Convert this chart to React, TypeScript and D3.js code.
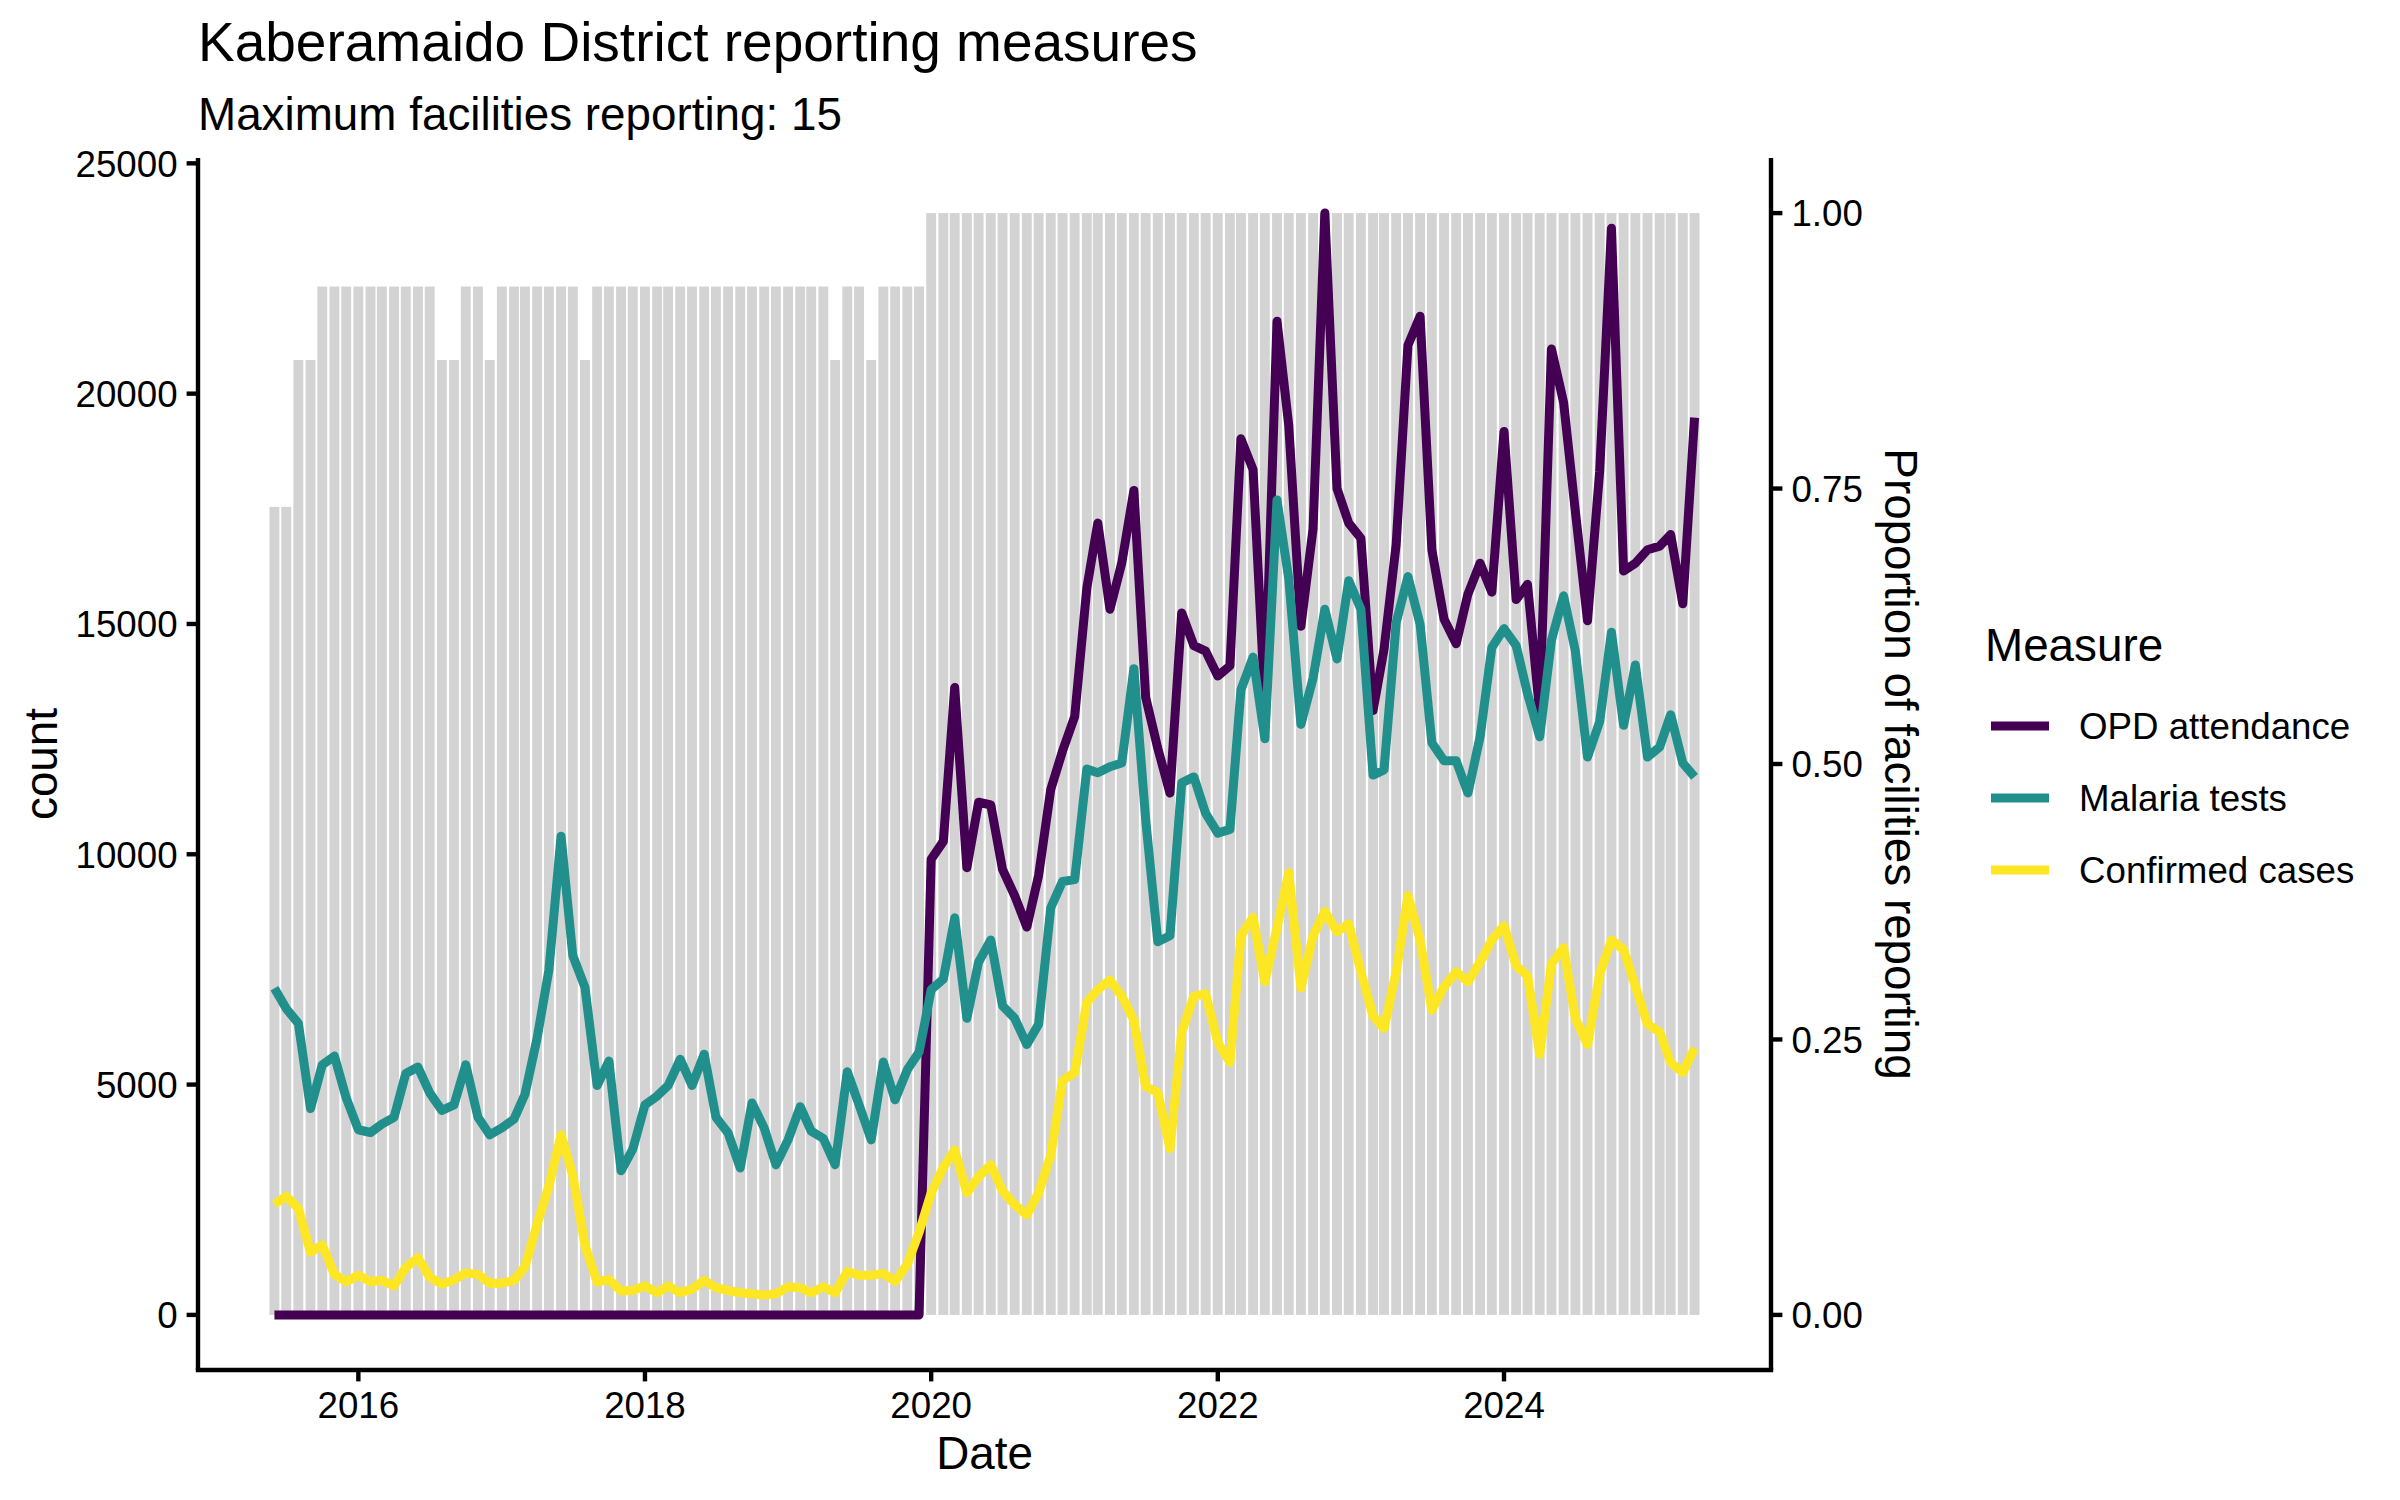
import { useEffect } from "react";
import * as d3 from "d3";

const START_MONTH = "2015-06-01";
const MAX_FACILITIES = 15;

// facilities reporting per month, Jun 2015 .. May 2025
const facilities = [
  11, 11, 13, 13, 14, 14, 14, 14, 14, 14, 14, 14, 14, 14, 13, 13, 14, 14, 13, 14,
  14, 14, 14, 14, 14, 14, 13, 14, 14, 14, 14, 14, 14, 14, 14, 14, 14, 14, 14, 14,
  14, 14, 14, 14, 14, 14, 14, 13, 14, 14, 13, 14, 14, 14, 14, 15, 15, 15, 15, 15,
  15, 15, 15, 15, 15, 15, 15, 15, 15, 15, 15, 15, 15, 15, 15, 15, 15, 15, 15, 15,
  15, 15, 15, 15, 15, 15, 15, 15, 15, 15, 15, 15, 15, 15, 15, 15, 15, 15, 15, 15,
  15, 15, 15, 15, 15, 15, 15, 15, 15, 15, 15, 15, 15, 15, 15, 15, 15, 15, 15, 15,
];

const opdAttendance = [
  0, 0, 0, 0, 0, 0, 0, 0, 0, 0, 0, 0, 0, 0, 0, 0, 0, 0, 0, 0,
  0, 0, 0, 0, 0, 0, 0, 0, 0, 0, 0, 0, 0, 0, 0, 0, 0, 0, 0, 0,
  0, 0, 0, 0, 0, 0, 0, 0, 0, 0, 0, 0, 0, 0, 0, 9890, 10280, 13620, 9710, 11130,
  11070, 9670, 9100, 8420, 9540, 11410, 12240, 12990, 15780, 17190, 15320, 16320, 17900, 13410, 12300, 11330, 15240, 14530, 14410, 13870,
  14090, 19020, 18350, 13300, 21570, 19310, 14950, 17070, 23920, 17940, 17190, 16860, 13120, 14450, 16730, 21050, 21680, 16610, 15110, 14570,
  15650, 16320, 15690, 19180, 15530, 15860, 13080, 20970, 19810, 17440, 15070, 18310, 23590, 16150, 16320, 16610, 16690, 16940, 15440, 19480,
];

const malariaTests = [
  7090, 6650, 6330, 4480, 5430, 5620, 4710, 4020, 3960, 4140, 4290, 5240, 5380, 4820, 4440, 4560, 5430, 4290, 3910, 4060,
  4250, 4790, 6010, 7490, 10390, 7800, 7110, 4980, 5510, 3130, 3600, 4560, 4750, 4980, 5550, 4980, 5660, 4290, 3950, 3190,
  4600, 4060, 3260, 3800, 4520, 3990, 3830, 3260, 5280, 4560, 3800, 5490, 4670, 5320, 5700, 7060, 7290, 8620, 6440, 7660,
  8140, 6710, 6440, 5870, 6310, 8840, 9410, 9450, 11850, 11770, 11900, 11980, 14030, 10760, 8100, 8230, 11550, 11680, 10890, 10460,
  10540, 13570, 14280, 12510, 17690, 15980, 12820, 13820, 15320, 14240, 15940, 15320, 11720, 11830, 15030, 16030, 14990, 12420, 12030, 12030,
  11330, 12550, 14490, 14900, 14530, 13490, 12550, 14650, 15610, 14410, 12110, 12880, 14820, 12800, 14110, 12110, 12330, 13030, 11980, 11680,
];

const confirmedCases = [
  2400, 2580, 2310, 1360, 1520, 880, 720, 860, 720, 750, 630, 1030, 1240, 820, 670, 760, 910, 880, 690, 690,
  750, 1050, 1970, 2800, 3910, 3030, 1510, 710, 770, 520, 530, 630, 480, 630, 480, 560, 750, 590, 530, 480,
  460, 430, 460, 610, 590, 480, 610, 480, 940, 860, 860, 900, 730, 1100, 1790, 2650, 3200, 3580, 2650, 3000,
  3260, 2690, 2390, 2170, 2650, 3470, 5090, 5260, 6790, 7060, 7270, 6920, 6400, 4960, 4830, 3610, 6140, 6920, 6970, 5920,
  5480, 8230, 8630, 7230, 8400, 9600, 7100, 8230, 8760, 8320, 8490, 7450, 6490, 6220, 7450, 9100, 8140, 6620, 7120, 7450,
  7230, 7660, 8140, 8450, 7580, 7360, 5660, 7620, 7970, 6440, 5870, 7400, 8140, 7930, 7140, 6310, 6140, 5480, 5260, 5790,
];

const measures = ["OPD attendance", "Malaria tests", "Confirmed cases"];
const measureColors = ["#440154", "#21908C", "#FDE725"];
const seriesValues = [opdAttendance, malariaTests, confirmedCases];

const yTicks = [0, 5000, 10000, 15000, 20000, 25000];
const propTicks = [0, 0.25, 0.5, 0.75, 1];
const xTickYears = [2016, 2018, 2020, 2022, 2024];

const FONT = "'Liberation Sans', Arial, Helvetica, sans-serif";
const W = 2400;
const H = 1500;
const panel = { left: 198, right: 1771, top: 158, bottom: 1370 };
const DAY = 86400000;

export default function App() {
  useEffect(() => {
    document.body.style.margin = "0";
  }, []);

  const start = new Date(START_MONTH + "T00:00:00Z");
  const months = d3.range(facilities.length).map((i) => d3.utcMonth.offset(start, i));

  // bar width: 0.9 of the smallest gap between months (28 days)
  const barDays = 0.9 * 28;
  const lo = +months[0] - (barDays / 2) * DAY;
  const hi = +months[months.length - 1] + (barDays / 2) * DAY;
  const padX = (hi - lo) * 0.05;
  const x = d3
    .scaleUtc()
    .domain([new Date(lo - padX), new Date(hi + padX)])
    .range([panel.left, panel.right]);

  const scaleFactor = d3.max(opdAttendance) as number;
  const yMax = scaleFactor;
  const padY = yMax * 0.05;
  const y = d3.scaleLinear().domain([-padY, yMax + padY]).range([panel.bottom, panel.top]);

  const line = d3
    .line<number>()
    .x((_, i) => x(months[i]))
    .y((d) => y(d));

  const tickLen = 11.4;
  const tickFont = 36.7;

  return (
    <svg width={W} height={H} style={{ display: "block", background: "#fff" }} fontFamily={FONT}>
      <rect width={W} height={H} fill="#fff" />

      {/* reporting proportion bars */}
      {months.map((m, i) => {
        const x0 = x(new Date(+m - (barDays / 2) * DAY));
        const x1 = x(new Date(+m + (barDays / 2) * DAY));
        const top = y((facilities[i] / MAX_FACILITIES) * scaleFactor);
        return (
          <rect key={i} x={x0} y={top} width={x1 - x0} height={y(0) - top} fill="#D3D3D3" />
        );
      })}

      {/* series lines */}
      {seriesValues.map((vals, k) => (
        <path
          key={k}
          d={line(vals) || ""}
          fill="none"
          stroke={measureColors[k]}
          strokeWidth={9}
          strokeLinejoin="round"
          strokeLinecap="butt"
        />
      ))}

      {/* left axis */}
      <line x1={panel.left} x2={panel.left} y1={panel.top} y2={panel.bottom} stroke="#000" strokeWidth={4.4} />
      {yTicks.map((t) => (
        <g key={t} transform={`translate(0,${y(t)})`}>
          <line x1={panel.left - tickLen} x2={panel.left} stroke="#000" strokeWidth={4.4} />
          <text x={panel.left - tickLen - 9} dy="0.36em" textAnchor="end" fontSize={tickFont} fill="#000">
            {t}
          </text>
        </g>
      ))}

      {/* right axis */}
      <line x1={panel.right} x2={panel.right} y1={panel.top} y2={panel.bottom} stroke="#000" strokeWidth={4.4} />
      {propTicks.map((t) => (
        <g key={t} transform={`translate(0,${y(t * scaleFactor)})`}>
          <line x1={panel.right} x2={panel.right + tickLen} stroke="#000" strokeWidth={4.4} />
          <text x={panel.right + tickLen + 9} dy="0.36em" textAnchor="start" fontSize={tickFont} fill="#000">
            {t.toFixed(2)}
          </text>
        </g>
      ))}

      {/* bottom axis */}
      <line x1={panel.left - 2.2} x2={panel.right + 2.2} y1={panel.bottom} y2={panel.bottom} stroke="#000" strokeWidth={4.4} />
      {xTickYears.map((yr) => {
        const px = x(new Date(Date.UTC(yr, 0, 1)));
        return (
          <g key={yr} transform={`translate(${px},0)`}>
            <line y1={panel.bottom} y2={panel.bottom + tickLen} stroke="#000" strokeWidth={4.4} />
            <text y={panel.bottom + tickLen + 37} textAnchor="middle" fontSize={tickFont} fill="#000">
              {yr}
            </text>
          </g>
        );
      })}

      {/* axis titles */}
      <text x={(panel.left + panel.right) / 2} y={1469} textAnchor="middle" fontSize={45.8} fill="#000">
        Date
      </text>
      <text
        transform={`translate(57,${(panel.top + panel.bottom) / 2}) rotate(-90)`}
        textAnchor="middle"
        fontSize={45.8}
        fill="#000"
      >
        count
      </text>
      <text
        transform={`translate(1885,${(panel.top + panel.bottom) / 2}) rotate(90)`}
        textAnchor="middle"
        fontSize={45.8}
        fill="#000"
      >
        Proportion of facilities reporting
      </text>

      {/* titles */}
      <text x={panel.left} y={61} fontSize={55} fill="#000">
        Kaberamaido District reporting measures
      </text>
      <text x={panel.left} y={130} fontSize={45.8} fill="#000">
        Maximum facilities reporting: {MAX_FACILITIES}
      </text>

      {/* legend */}
      <text x={1985} y={661} fontSize={45.8} fill="#000">
        Measure
      </text>
      {measures.map((m, k) => {
        const cy = 726 + k * 72;
        return (
          <g key={m}>
            <line x1={1991} x2={2049} y1={cy} y2={cy} stroke={measureColors[k]} strokeWidth={9} />
            <text x={2079} y={cy} dy="0.36em" fontSize={tickFont} fill="#000">
              {m}
            </text>
          </g>
        );
      })}
    </svg>
  );
}
